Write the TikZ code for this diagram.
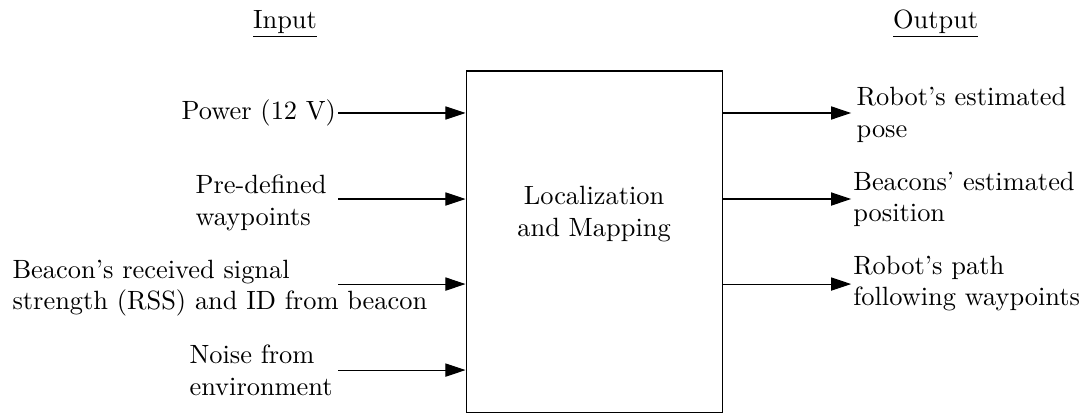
\documentclass[tikz,border=0pt]{standalone}
\usepackage{tikz}
\usetikzlibrary{arrows.meta,positioning}
\tikzstyle{arrow} = [
    -{Triangle[length=7.6pt,width=5pt]},
    draw=black
]
\tikzstyle{block} = [
    rectangle,
    draw=black,
    minimum width=3.408cm,
    minimum height=4.54cm,
    inner sep=0pt
]
\tikzstyle{iotext} = [
    align=left,
    inner sep=0pt,
    anchor=west
]

\begin{document}
\begin{tikzpicture}
    \useasboundingbox (0,0) rectangle (14.43,-5.512);
    % headings
    \node[anchor=base] (input) at (3.794,-0.373) {\underline{Input}};
    \node[anchor=base] (output) at (12.455,-0.373) {\underline{Output}};
    % main block
    \node[block] (lam) at (7.908,-3.215) {};
    \node[align=center] (lamtext) at ([yshift=0.366cm]lam.center) {Localization\\and Mapping};
    % inputs
    \coordinate (in1) at (4.50,-1.504);
    \coordinate (in2) at (4.50,-2.649);
    \coordinate (in3) at (4.50,-3.781);
    \coordinate (in4) at (4.50,-4.926);
    \node[iotext, anchor=east] (power) at (4.48,-1.504) {Power (12 V)};
    \node[iotext] (waypoints) at (2.596,-2.70) {Pre-defined\\waypoints};
    \node[iotext] (rss) at (0.160,-3.834) {Beacon's received signal\\strength (RSS) and ID from beacon};
    \node[iotext] (noise) at (2.516,-4.93) {Noise from\\environment};
    \draw[arrow] (in1) -- (lam.west |- in1);
    \draw[arrow] (in2) -- (lam.west |- in2);
    \draw[arrow] (in3) -- (lam.west |- in3);
    \draw[arrow] (in4) -- (lam.west |- in4);
    % outputs
    \coordinate (out1) at (11.33,-1.504);
    \coordinate (out2) at (11.33,-2.649);
    \coordinate (out3) at (11.33,-3.781);
    \draw[arrow] (lam.east |- out1) -- (out1);
    \draw[arrow] (lam.east |- out2) -- (out2);
    \draw[arrow] (lam.east |- out3) -- (out3);
    \node[iotext] (pose) at (11.396,-1.532) {Robot's estimated\\pose};
    \node[iotext] (beacons) at (11.352,-2.653) {Beacons' estimated\\position};
    \node[iotext] (path) at (11.352,-3.773) {Robot's path\\following waypoints};
\end{tikzpicture}
\end{document}
